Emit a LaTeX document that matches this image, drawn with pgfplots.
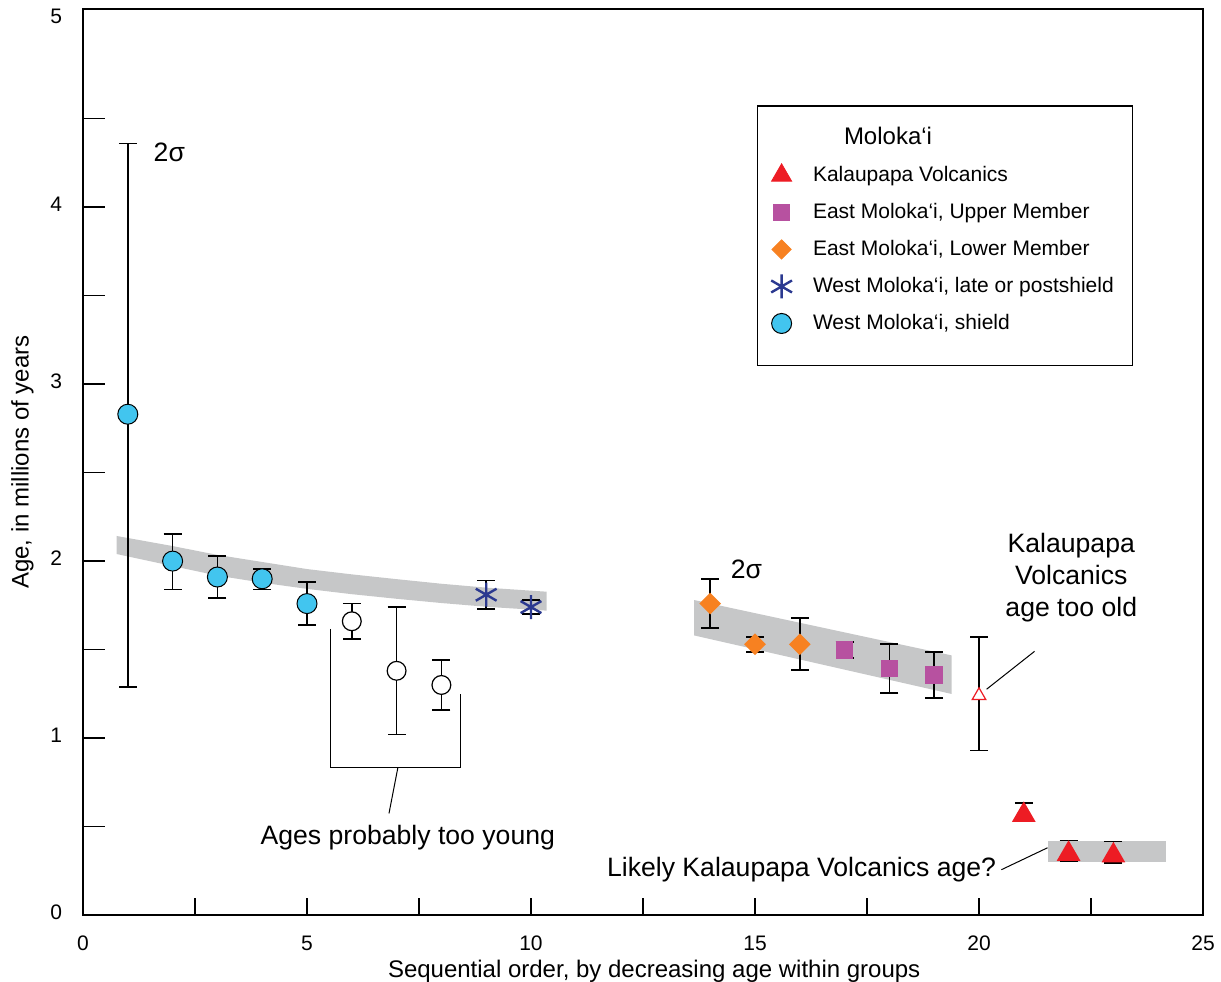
\documentclass[border=0pt]{standalone}
\usepackage{fontspec}
\setmainfont{Liberation Sans}
\usepackage{pgfplots}
\pgfplotsset{compat=1.18}
\usepackage{pgfplotstable}
\definecolor{shieldc}{RGB}{66,197,239}
\definecolor{starc}{RGB}{43,57,144}
\definecolor{orangec}{RGB}{247,129,33}
\definecolor{purplec}{RGB}{183,81,160}
\definecolor{redc}{RGB}{237,28,36}
\definecolor{bandc}{RGB}{198,199,200}

\pgfplotstableread{
x y ep em
1 2.83 1.53 1.54
2 2.00 0.155 0.16
3 1.91 0.12 0.12
4 1.90 0.057 0.06
5 1.76 0.12 0.12
}\tabShield
\pgfplotstableread{
x y ep em
6 1.66 0.10 0.10
7 1.38 0.36 0.36
8 1.30 0.14 0.14
}\tabYoung
\pgfplotstableread{
x y ep em
9 1.81 0.08 0.08
10 1.74 0.04 0.04
}\tabPost
\pgfplotstableread{
x y ep em
14 1.76 0.14 0.14
15 1.53 0.042 0.042
16 1.53 0.147 0.147
}\tabLowerM
\pgfplotstableread{
x y ep em
17 1.497 0.045 0.045
18 1.393 0.14 0.14
19 1.355 0.13 0.13
}\tabUpperM
\pgfplotstableread{
x y ep em
20 1.24 0.33 0.31
}\tabOld
\pgfplotstableread{
x y ep em
21 0.565 0.067 0.037
22 0.345 0.076 0.038
23 0.336 0.079 0.042
}\tabKala

\begin{document}
\begin{tikzpicture}
\useasboundingbox (-41.5pt,-33pt) rectangle (569pt,457.5pt);
\begin{axis}[
  at={(0pt,0pt)}, anchor=south west,
  scale only axis, width=560pt, height=453pt,
  xmin=0, xmax=25, ymin=0, ymax=5.12,
  axis line style={line width=0.7pt},
  tick style={black, line width=0.7pt},
  tick align=inside, tick pos=left,
  xtick={0,2.5,...,25}, xticklabels={0,,5,,10,,15,,20,,25},
  ytick={0,0.5,...,4.5}, yticklabels={0,,1,,2,,3,,4,},
  extra y ticks={5.06}, extra y tick labels={5},
  extra y tick style={tick style={draw=none}},
  xtick style={/pgfplots/major tick length=8.5pt},
  ytick style={/pgfplots/major tick length=10.8pt},
  /pgf/number format/assume math mode=true,
  ticklabel style={font=\fontsize{10.5}{12}\selectfont},
  yticklabel style={xshift=-7pt, yshift=1.5pt},
  xticklabel style={yshift=-7pt},
  xlabel={Sequential order, by decreasing age within groups},
  ylabel={Age, in millions of years},
  label style={font=\fontsize{12}{14}\selectfont},
  xlabel style={at={(axis description cs:0.51,0)}, yshift=-19pt},
  ylabel style={yshift=1.5pt},
  legend style={at={(axis cs:15.07,4.50)}, anchor=north west, draw=none, fill=none,
    font=\fontsize{10.5}{12}\selectfont, row sep=5.4pt},
  legend cell align=left,
  error bars/error bar style={line width=0.85pt, black},
  error bars/error mark options={rotate=90, line width=0.85pt, black, mark size=4.5pt},
]
% bands
\addplot[fill=bandc, draw=none, forget plot] coordinates {
 (0.75,2.142) (2,2.085) (3,2.035) (4,1.995) (5,1.955) (6,1.925) (7,1.898) (8,1.872) (9,1.85) (10.35,1.827)
 (10.35,1.72) (9,1.742) (8,1.763) (7,1.787) (6,1.813) (5,1.843) (4,1.878) (3,1.918) (2,1.972) (0.75,2.04)
} --cycle;
\addplot[fill=bandc, draw=none, forget plot] coordinates {
 (13.64,1.78) (19.39,1.467) (19.39,1.249) (13.64,1.58)
} --cycle;
\addplot[fill=bandc, draw=none, forget plot] coordinates {
 (21.55,0.421) (24.18,0.421) (24.18,0.302) (21.55,0.302)
} --cycle;

% data
\addplot[forget plot, only marks, line width=0.85pt, mark=*, mark size=5pt, mark options={fill=shieldc, draw=black, line width=0.5pt},
  error bars/.cd, y dir=both, y explicit, error bar style={line width=0.85pt}]
  table[x=x, y=y, y error plus=ep, y error minus=em] {\tabShield};
\addplot[forget plot, only marks, line width=0.85pt, mark=*, mark size=4.7pt, mark options={fill=white, draw=black, line width=0.6pt},
  error bars/.cd, y dir=both, y explicit, error bar style={line width=0.85pt}]
  table[x=x, y=y, y error plus=ep, y error minus=em] {\tabYoung};
\addplot[forget plot, only marks, line width=0.85pt, mark=asterisk, mark size=6pt, mark options={draw=starc, line width=1.2pt},
  error bars/.cd, y dir=both, y explicit, error bar style={line width=0.85pt}]
  table[x=x, y=y, y error plus=ep, y error minus=em] {\tabPost};
\addplot[forget plot, only marks, line width=0.85pt, mark=square*, mark size=3.4pt, mark options={rotate=45, fill=orangec, draw=orangec},
  error bars/.cd, y dir=both, y explicit, error bar style={line width=0.85pt}]
  table[x=x, y=y, y error plus=ep, y error minus=em] {\tabLowerM};
\addplot[forget plot, only marks, line width=0.85pt, mark=square*, mark size=4pt, mark options={fill=purplec, draw=purplec},
  error bars/.cd, y dir=both, y explicit, error bar style={line width=0.85pt}]
  table[x=x, y=y, y error plus=ep, y error minus=em] {\tabUpperM};
\addplot[forget plot, only marks, line width=0.85pt, mark=triangle*, mark size=3.9pt, mark options={fill=white, draw=redc, line width=0.6pt},
  error bars/.cd, y dir=both, y explicit, error bar style={line width=0.85pt}]
  table[x=x, y=y, y error plus=ep, y error minus=em] {\tabOld};
\addplot[forget plot, only marks, line width=0.85pt, mark=triangle*, mark size=6pt, mark options={fill=redc, draw=redc},
  error bars/.cd, y dir=both, y explicit, error bar style={line width=0.85pt}]
  table[x=x, y=y, y error plus=ep, y error minus=em] {\tabKala};

% legend
\addlegendimage{empty legend}
\addlegendentry{\hspace{24pt}\fontsize{12}{14}\selectfont Moloka‘i}
\addlegendimage{only marks, mark=triangle*, mark size=5.8pt, mark options={fill=redc, draw=redc}}
\addlegendentry{\hspace{8.5pt}Kalaupapa Volcanics}
\addlegendimage{only marks, mark=square*, mark size=4pt, mark options={fill=purplec, draw=purplec}}
\addlegendentry{\hspace{8.5pt}East Moloka‘i, Upper Member}
\addlegendimage{only marks, mark=square*, mark size=3.4pt, mark options={rotate=45, fill=orangec, draw=orangec}}
\addlegendentry{\hspace{8.5pt}East Moloka‘i, Lower Member}
\addlegendimage{only marks, mark=asterisk, mark size=6pt, mark options={draw=starc, line width=1.2pt}}
\addlegendentry{\hspace{8.5pt}West Moloka‘i, late or postshield}
\addlegendimage{only marks, mark=*, mark size=5pt, mark options={fill=shieldc, draw=black, line width=0.5pt}}
\addlegendentry{\hspace{8.5pt}West Moloka‘i, shield}

% legend frame
\draw[line width=0.7pt] (axis cs:15.05,3.105) rectangle (axis cs:23.42,4.571);

% annotations
\node[anchor=west, font=\fontsize{13.3}{16}\selectfont, inner sep=0pt] at (axis cs:1.57,4.31) {2σ};
\node[anchor=west, font=\fontsize{13.3}{16}\selectfont, inner sep=0pt] at (axis cs:14.45,1.955) {2σ};
\node[font=\fontsize{13.3}{16}\selectfont, inner sep=0pt] at (axis cs:7.25,0.438) {Ages probably too young};
\draw[line width=0.5pt] (axis cs:5.515,1.617) -- (axis cs:5.515,0.835) -- (axis cs:8.43,0.835) -- (axis cs:8.43,1.247);
\draw[line width=0.5pt] (axis cs:7.03,0.835) -- (axis cs:6.83,0.574);
\node[font=\fontsize{13.3}{16}\selectfont, align=center, inner sep=0pt] at (axis cs:22.06,1.904) {Kalaupapa\\Volcanics\\age too old};
\draw[line width=0.5pt] (axis cs:21.24,1.49) -- (axis cs:20.17,1.276);
\node[anchor=east, font=\fontsize{13.3}{16}\selectfont, inner sep=0pt] at (axis cs:20.39,0.255) {Likely Kalaupapa Volcanics age?};
\draw[line width=0.5pt] (axis cs:20.5,0.256) -- (axis cs:21.53,0.38);
\end{axis}
\end{tikzpicture}
\end{document}
